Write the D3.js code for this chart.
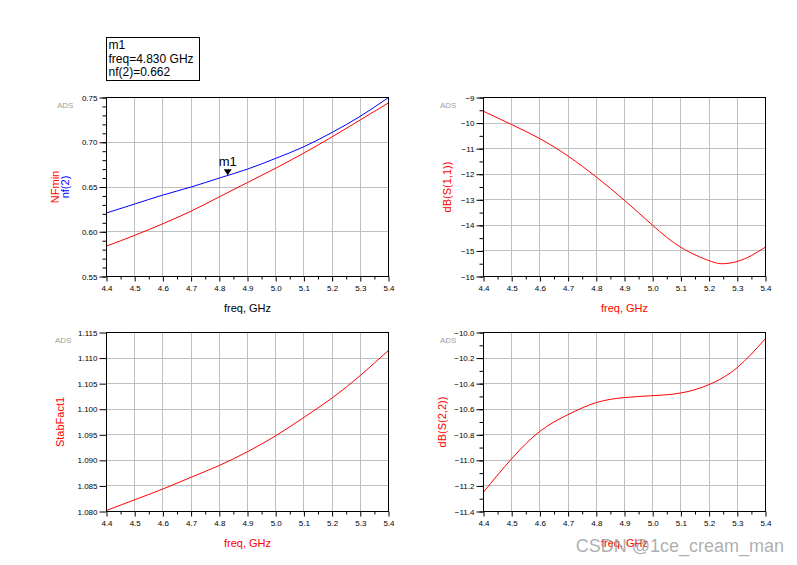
<!DOCTYPE html>
<html lang="en">
<head>
  <meta charset="utf-8">
  <title>ADS results</title>
  <script type="text/javascript" src="https://cdn.jsdelivr.net/npm/d3@7/dist/d3.min.js"></script>
  <style>
    body { margin: 0; background: #fff; }
    svg text { font-family: "Liberation Sans", Arial, sans-serif; }
  </style>
</head>
<body>
  <script type="text/javascript">

  // values
  var freq = [4.4, 4.5, 4.6, 4.7, 4.8, 4.9, 5.0, 5.1, 5.2, 5.3, 5.4];
  var nfMin = [0.584, 0.596, 0.609, 0.623, 0.639, 0.655, 0.671, 0.688, 0.706, 0.725, 0.744];
  var nf2 = [0.621, 0.631, 0.641, 0.650, 0.660, 0.670, 0.682, 0.695, 0.711, 0.729, 0.750];
  var freqS11 = [4.4, 4.5, 4.6, 4.7, 4.8, 4.9, 5.0, 5.1, 5.2, 5.25, 5.3, 5.35, 5.4];
  var dbS11 = [-9.54, -10.06, -10.61, -11.29, -12.11, -13.02, -14.0, -14.86, -15.38, -15.5, -15.41, -15.18, -14.85];
  var stabFact1 = [1.0802, 1.0823, 1.0844, 1.0867, 1.0890, 1.0917, 1.0948, 1.0984, 1.1022, 1.1066, 1.1115];
  var dbS22 = [-11.248, -10.987, -10.773, -10.642, -10.548, -10.509, -10.494, -10.473, -10.407, -10.274, -10.047];

  var freqTicks = [4.4, 4.5, 4.6, 4.7, 4.8, 4.9, 5.0, 5.1, 5.2, 5.3, 5.4];
  var nfTicks = [0.55, 0.60, 0.65, 0.70, 0.75];
  var s11Ticks = [-16, -15, -14, -13, -12, -11, -10, -9];
  var stabTicks = [1.080, 1.085, 1.090, 1.095, 1.100, 1.105, 1.110, 1.115];
  var s22Ticks = [-11.4, -11.2, -11.0, -10.8, -10.6, -10.4, -10.2, -10.0];

  var marker = { name: "m1", freq: 4.83, value: 0.662 };

  var svg = d3.select("body").append("svg")
    .attr("width", 797)
    .attr("height", 565);

  var panels = [
    { left: 106.5, top: 97.5, ticks: nfTicks, minor: 0.01, fmt: ".2f",
      series: [{ x: freq, y: nfMin, color: "#ff0000" }, { x: freq, y: nf2, color: "#0000ff" }],
      ylabels: [{ text: "NFmin", color: "#ff0000", x: 59 }, { text: "nf(2)", color: "#0000ff", x: 69 }],
      xlabelColor: "#000", adsX: 57 },
    { left: 483.5, top: 97.5, ticks: s11Ticks, minor: 0.5, fmt: "d",
      series: [{ x: freqS11, y: dbS11, color: "#ff0000" }],
      ylabels: [{ text: "dB(S(1,1))", color: "#ff0000", x: 451 }],
      xlabelColor: "#ff0000", adsX: 440 },
    { left: 106.5, top: 332.5, ticks: stabTicks, minor: null, fmt: ".3f",
      series: [{ x: freq, y: stabFact1, color: "#ff0000" }],
      ylabels: [{ text: "StabFact1", color: "#ff0000", x: 64 }],
      xlabelColor: "#ff0000", adsX: 55 },
    { left: 483.5, top: 332.5, ticks: s22Ticks, minor: 0.1, fmt: ".1f",
      series: [{ x: freq, y: dbS22, color: "#ff0000" }],
      ylabels: [{ text: "dB(S(2,2))", color: "#ff0000", x: 446 }],
      xlabelColor: "#ff0000", adsX: 440 }
  ];

  var W = 282, H = 179;

  panels.forEach(function(p, i) {
    var g = svg.append("g").attr("transform", "translate(" + p.left + "," + p.top + ")");
    var x = d3.scaleLinear().domain([4.4, 5.4]).range([0, W]);
    var y = d3.scaleLinear().domain(d3.extent(p.ticks)).range([H, 0]);

    // grid
    g.append("g").selectAll("line").data(freqTicks.slice(1, -1)).enter().append("line")
      .attr("x1", d => Math.round(x(d))).attr("x2", d => Math.round(x(d)))
      .attr("y1", 0).attr("y2", H)
      .attr("stroke", "#c0c0c0");
    g.append("g").selectAll("line").data(p.ticks.slice(1, -1)).enter().append("line")
      .attr("y1", d => Math.round(y(d))).attr("y2", d => Math.round(y(d)))
      .attr("x1", 0).attr("x2", W)
      .attr("stroke", "#c0c0c0");

    // minor ticks
    var xMinor = d3.range(4.45, 5.4, 0.1);
    g.append("g").attr("transform", "translate(0," + H + ")")
      .call(d3.axisBottom(x).tickValues(xMinor).tickSize(3).tickFormat(""))
      .call(a => a.select(".domain").remove());
    if (p.minor) {
      var ext = d3.extent(p.ticks);
      var yMinor = d3.range(Math.round((ext[1] - ext[0]) / p.minor) + 1)
        .map(k => ext[0] + k * p.minor);
      g.append("g")
        .call(d3.axisLeft(y).tickValues(yMinor).tickSize(4).tickFormat(""))
        .call(a => a.select(".domain").remove());
    }

    // major ticks
    var xa = g.append("g").attr("transform", "translate(0," + H + ")")
      .call(d3.axisBottom(x).tickValues(freqTicks).tickSize(5).tickPadding(4).tickFormat(d3.format(".1f")));
    var ya = g.append("g")
      .call(d3.axisLeft(y).tickValues(p.ticks).tickSize(7).tickPadding(2).tickFormat(d3.format(p.fmt)));
    [xa, ya].forEach(function(a) {
      a.select(".domain").remove();
      a.selectAll("text").attr("font-size", 8).attr("fill", "#000")
        .attr("font-family", "'Liberation Sans', Arial, sans-serif");
    });

    // curves
    p.series.forEach(function(s) {
      var pts = s.x.map((d, k) => [d, s.y[k]]);
      g.append("path")
        .datum(pts)
        .attr("fill", "none")
        .attr("stroke", s.color)
        .attr("stroke-width", 1)
        .attr("d", d3.line().x(d => x(d[0])).y(d => y(d[1])).curve(d3.curveNatural));
    });

    // frame
    g.append("rect").attr("width", W).attr("height", H)
      .attr("fill", "none").attr("stroke", "#000");

    // ADS tag
    svg.append("text").attr("x", p.adsX).attr("y", p.top + 10)
      .attr("font-size", 8).attr("fill", "#a0a0a0").text("ADS");

    // axis labels
    svg.append("text")
      .attr("x", p.left + W / 2).attr("y", p.top + H + 35)
      .attr("text-anchor", "middle").attr("font-size", 11)
      .attr("fill", p.xlabelColor).text("freq, GHz");
    p.ylabels.forEach(function(l) {
      svg.append("text")
        .attr("transform", "translate(" + l.x + "," + (p.top + H / 2) + ") rotate(-90)")
        .attr("text-anchor", "middle").attr("font-size", 11)
        .attr("fill", l.color).text(l.text);
    });

    // marker on nf(2)
    if (i === 0) {
      var mx = x(marker.freq), my = y(marker.value);
      g.append("path")
        .attr("d", "M" + (mx - 4) + "," + (my - 7) + "L" + (mx + 4) + "," + (my - 7) + "L" + mx + "," + (my - 1) + "Z")
        .attr("fill", "#000");
      g.append("text").attr("x", mx).attr("y", my - 10)
        .attr("text-anchor", "middle").attr("font-size", 13).text(marker.name);

      var box = svg.append("g").attr("transform", "translate(106.5,37.5)");
      box.append("rect").attr("width", 93).attr("height", 43)
        .attr("fill", "#fff").attr("stroke", "#000");
      [marker.name, "freq=" + marker.freq.toFixed(3) + " GHz", "nf(2)=" + marker.value.toFixed(3)]
        .forEach(function(t, k) {
          box.append("text").attr("x", 2).attr("y", 11.5 + k * 13.5)
            .attr("font-size", 12).attr("fill", "#000").text(t);
        });
    }
  });

  // watermark (sits over the last x label, as in the original)
  svg.append("text")
    .attr("x", 784).attr("y", 552)
    .attr("text-anchor", "end").attr("font-size", 18)
    .attr("fill", "#999").attr("fill-opacity", 0.8)
    .text("CSDN @1ce_cream_man");

  </script>
</body>
</html>
